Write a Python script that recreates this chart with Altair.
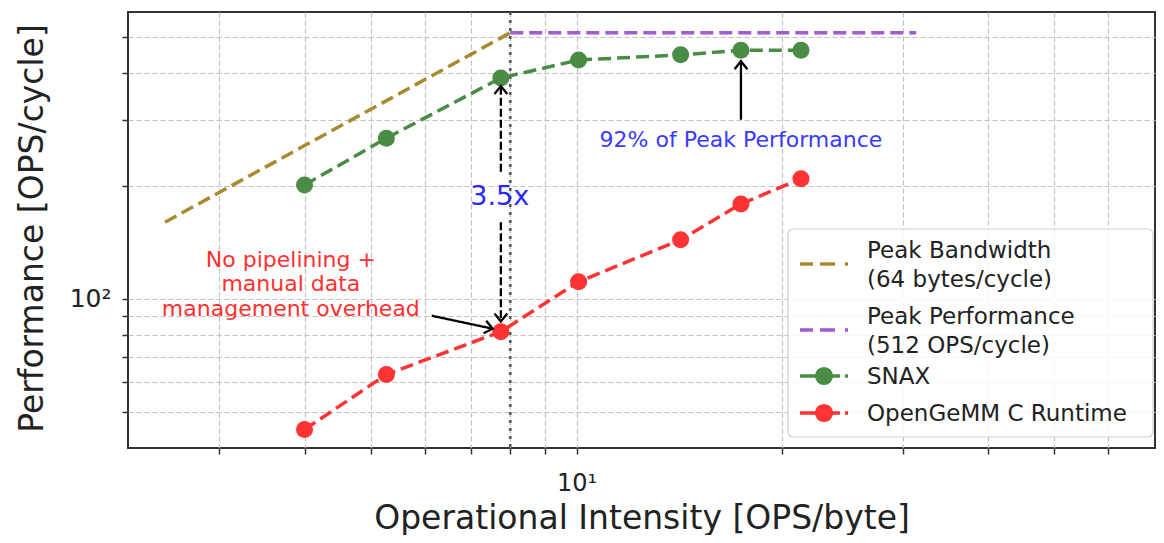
import math
import altair as alt
import pandas as pd

# ---------------- data ----------------
series_names = ["Peak Bandwidth", "Peak Performance", "SNAX", "OpenGeMM C Runtime"]
series_colors = ["#a88a30", "#a05ad2", "#4a8c45", "#ff3333"]
legend_labels = [["Peak Bandwidth", "(64 bytes/cycle)"],
                 ["Peak Performance", "(512 OPS/cycle)"],
                 ["SNAX"],
                 ["OpenGeMM C Runtime"]]
legend_marker = [False, False, True, True]

bw_x = [2.5, 8.0]
bw_y = [160.0, 512.0]
perf_x = [8.0, 31.4]
perf_y = [512.0, 512.0]
ridge_x = [8.0]

intensity = [4.0, 5.27, 7.75, 10.07, 14.2, 17.4, 21.3]
snax_perf = [201, 268, 388, 433, 447, 460, 460]
gemm_perf = [44.8, 62.8, 81.7, 111, 143.6, 179, 208.8]

x_ticks = [3, 4, 5, 6, 7, 8, 9, 10, 20, 30, 40, 50, 60]
y_ticks = [50, 60, 70, 80, 90, 100, 200, 300, 400, 500]

arrow_x1 = [7.75, 7.75, 17.4, 6.14]
arrow_y1 = [218, 160, 300, 90.1]
arrow_x2 = [7.75, 7.75, 17.4, 7.54]
arrow_y2 = [369, 87, 430, 83.2]
arrow_style = ["dashed", "dashed", "solid", "solid"]
arrow_angle = [270, 90, 270, 12]

note_text = ["3.5x", "92% of Peak Performance", "No pipelining +\nmanual data\nmanagement overhead"]
note_x = [7.72, 17.4, 3.82]
note_y = [187, 265, 127]

# ---------------- tables ----------------
lines_df = pd.DataFrame({
    "series": [series_names[0]] * 2 + [series_names[1]] * 2
              + [series_names[2]] * len(intensity) + [series_names[3]] * len(intensity),
    "x": bw_x + perf_x + intensity + intensity,
    "y": bw_y + perf_y + snax_perf + gemm_perf,
})
points_df = lines_df[lines_df["series"].isin(series_names[2:])]
ridge_df = pd.DataFrame({"x": ridge_x})
arrows_df = pd.DataFrame({"x": arrow_x1, "y": arrow_y1, "x2": arrow_x2, "y2": arrow_y2,
                          "style": arrow_style, "angle": arrow_angle})
notes_df = pd.DataFrame({"x": note_x, "y": note_y, "text": note_text})
one_row = pd.DataFrame({"k": [0]})

FONT = "DejaVu Sans"
xs = alt.Scale(type="log", domain=[2.207, 70.2], nice=False)
ys = alt.Scale(type="log", domain=[40.0, 581.5], nice=False)

x_axis = alt.Axis(
    values=x_ticks, labelExpr="datum.value == 10 ? '10¹' : ''",
    tickSize=6, tickWidth=1.5, tickColor="#333", labelPadding=36, labelBaseline="alphabetic",
    labelFontSize=24, labelColor="#222", labelFlush=False, labelOverlap=False,
    grid=True, gridDash=[5, 3], gridColor="#c0c0c0", gridWidth=1.2, domain=False,
    title="Operational Intensity [OPS/byte]", titleFontSize=33, titleFontWeight="normal",
    titleColor="#222", titleBaseline="alphabetic", titleY=80,
)
y_axis = alt.Axis(
    values=y_ticks, labelExpr="datum.value == 100 ? '10²' : ''",
    tickSize=6, tickWidth=1.5, tickColor="#333", labelPadding=11,
    labelFontSize=25, labelColor="#222", labelOverlap=False,
    grid=True, gridDash=[5, 3], gridColor="#c0c0c0", gridWidth=1.2, domain=False,
    title="Performance [OPS/cycle]", titleFontSize=33, titleFontWeight="normal",
    titleColor="#222", titleBaseline="alphabetic", titleX=-86, titleY=216,
)

color = alt.Color("series:N", scale=alt.Scale(domain=series_names, range=series_colors), legend=None)

X = lambda f="x": alt.X(f"{f}:Q", scale=xs, axis=x_axis)
Y = lambda f="y": alt.Y(f"{f}:Q", scale=ys, axis=y_axis)

ridge = alt.Chart(ridge_df).mark_rule(color="#555", strokeWidth=2.5, strokeDash=[3, 5]).encode(x=X())
lines = alt.Chart(lines_df).mark_line(strokeWidth=3.5, strokeDash=[13, 6]).encode(
    x=X(), y=Y(), color=color
)
points = alt.Chart(points_df).mark_circle(size=290, opacity=1).encode(x=X(), y=Y(), color=color)

arrows = alt.Chart(arrows_df).mark_rule(color="black", strokeWidth=2.3).encode(
    x=X("x"), y=Y("y"), x2="x2:Q", y2="y2:Q",
    strokeDash=alt.StrokeDash("style:N", scale=alt.Scale(domain=["dashed", "solid"], range=[[8, 3], [1, 0]]), legend=None),
)
heads = alt.Chart(arrows_df).mark_point(shape="M-1,-0.8L0,0L-1,0.8", filled=False, size=256,
                                       strokeWidth=2.3, color="black", opacity=1).encode(
    x=X("x2"), y=Y("y2"), angle=alt.Angle("angle:Q", scale=None)
)

note_35 = alt.Chart(notes_df.iloc[[0]]).mark_text(font=FONT, fontSize=27, color="#2a2aff", baseline="middle").encode(
    x=X(), y=Y(), text="text:N")
note_92 = alt.Chart(notes_df.iloc[[1]]).mark_text(font=FONT, fontSize=22, color="#3a3aff", baseline="middle").encode(
    x=X(), y=Y(), text="text:N")
note_red = alt.Chart(notes_df.iloc[[2]]).mark_text(font=FONT, fontSize=22, color="#ff3030", baseline="middle",
                                                  lineBreak="\n", lineHeight=24.5).encode(
    x=X(), y=Y(), text="text:N")

# ---------------- legend (drawn as a guide box in pixel space) ----------------
LEG_X0, LEG_Y0, LEG_W, LEG_H = 660, 217, 365, 208
ROW_CENTERS = [35, 101, 147, 184]      # entry centres, px from legend top
LINE_GAP = 29                          # px between the two lines of a label
SYM_X0, SYM_X1, SYM_CX = 12, 60, 36    # symbol extent / marker centre, px from legend left
LABEL_X = 79

legend_layers = [
    alt.Chart(one_row).mark_rect(fill="white", fillOpacity=0.85, stroke="#d0d0d0", strokeWidth=1.2,
                                 cornerRadius=5).encode(
        x=alt.value(LEG_X0), x2=alt.value(LEG_X0 + LEG_W),
        y=alt.value(LEG_Y0), y2=alt.value(LEG_Y0 + LEG_H))
]
for name, col, labs, is_marker, cy in zip(series_names, series_colors, legend_labels, legend_marker, ROW_CENTERS):
    yc = LEG_Y0 + cy
    if is_marker:
        legend_layers.append(alt.Chart(one_row).mark_rule(color=col, strokeWidth=3.5,
                                                          strokeDash=[40, 5, 3, 100]).encode(
            x=alt.value(LEG_X0 + SYM_X0), x2=alt.value(LEG_X0 + SYM_X1), y=alt.value(yc)))
        legend_layers.append(alt.Chart(one_row).mark_circle(color=col, size=330, opacity=1).encode(
            x=alt.value(LEG_X0 + SYM_CX), y=alt.value(yc)))
    else:
        legend_layers.append(alt.Chart(one_row).mark_rule(color=col, strokeWidth=3.5,
                                                          strokeDash=[13, 7, 15, 10, 3, 100]).encode(
            x=alt.value(LEG_X0 + SYM_X0), x2=alt.value(LEG_X0 + SYM_X1), y=alt.value(yc)))
    n = len(labs)
    for i, line in enumerate(labs):
        ly = yc + (i - (n - 1) / 2) * LINE_GAP + 1
        legend_layers.append(alt.Chart(one_row).mark_text(font=FONT, fontSize=23, color="#222",
                                                          align="left", baseline="middle").encode(
            x=alt.value(LEG_X0 + LABEL_X), y=alt.value(ly), text=alt.value(line)))

chart = alt.layer(ridge, lines, points, arrows, heads, note_35, note_92, note_red, *legend_layers).properties(
    width=1027, height=436,
    autosize=alt.AutoSizeParams(type="none"),
    padding={"left": 120, "top": 4, "right": 1, "bottom": 87},
).configure(font=FONT).configure_view(stroke="#333", strokeWidth=2)

chart.save("out.html", embed_options={"renderer": "svg", "actions": False})
